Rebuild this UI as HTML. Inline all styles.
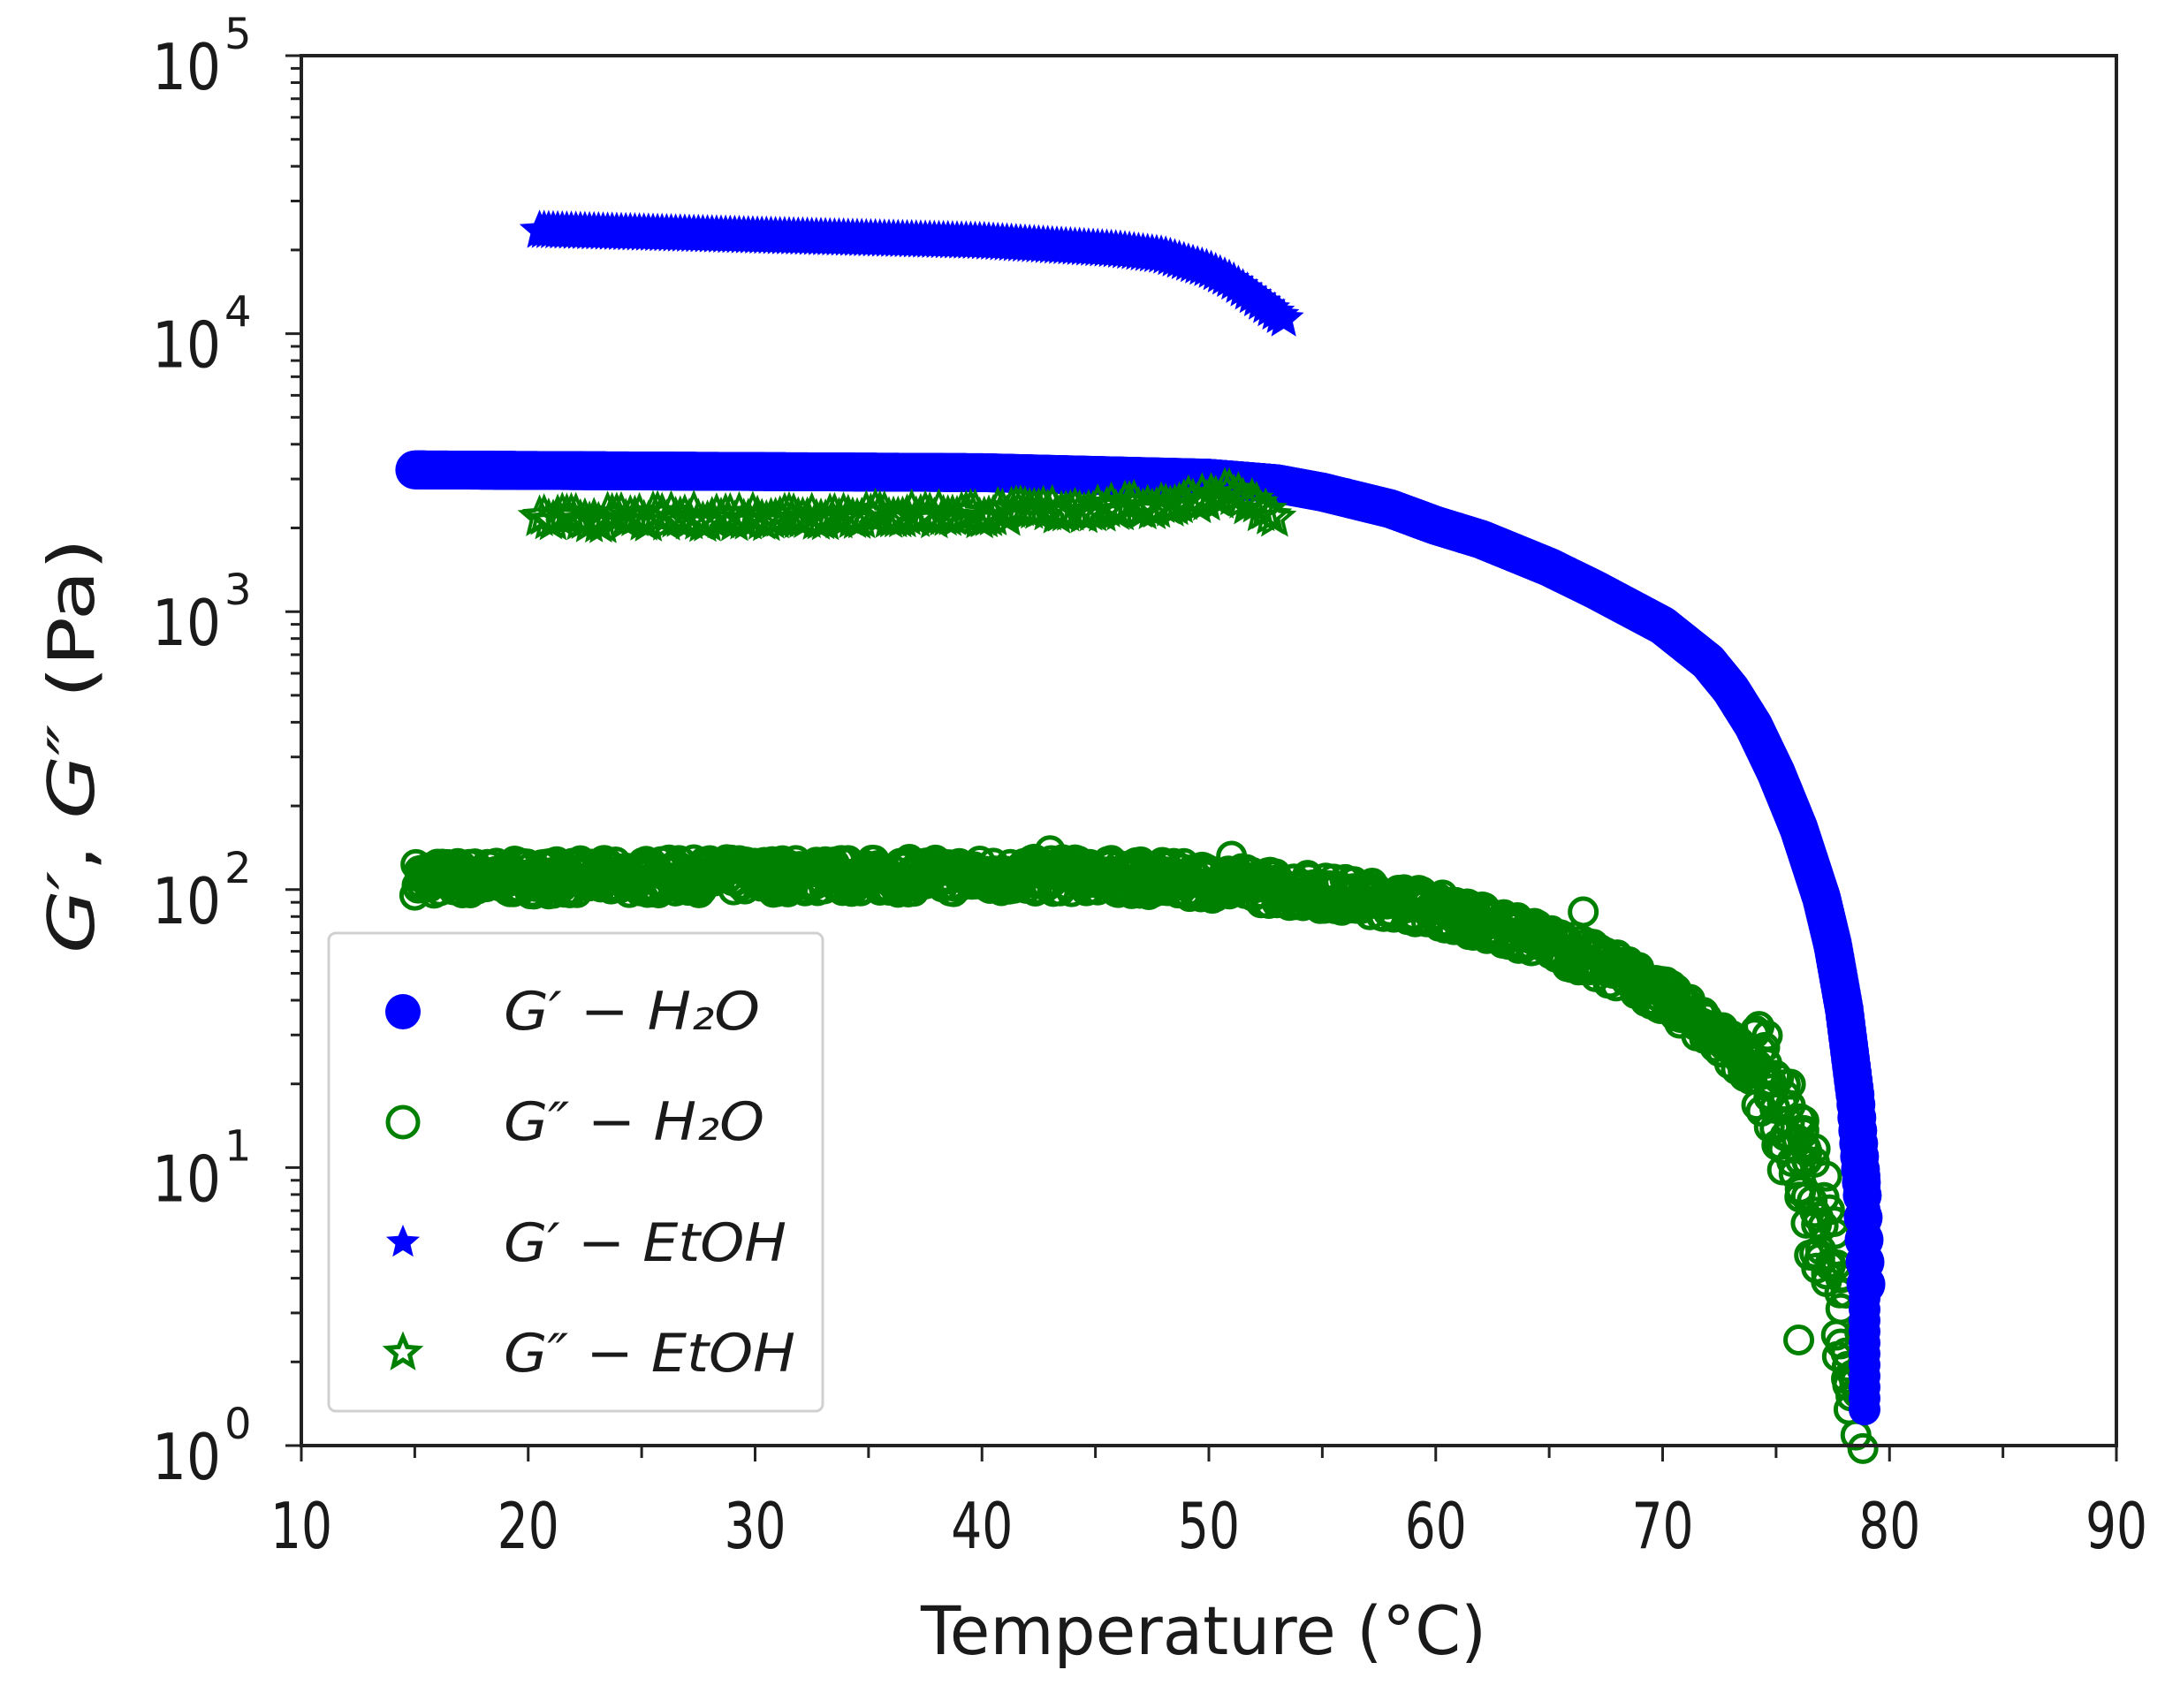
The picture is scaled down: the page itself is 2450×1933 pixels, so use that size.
<!DOCTYPE html>
<html><head><meta charset="utf-8"><style>
html,body{margin:0;padding:0;background:#fff;}
svg{display:block;}
text{font-family:"DejaVu Sans","Liberation Sans",sans-serif;fill:#1a1a1a;}
</style></head><body>
<svg id="s" width="2450" height="1933" viewBox="0 0 2450 1933" xmlns="http://www.w3.org/2000/svg">
<g id="data"></g>
<g id="axes"></g>
<rect x="372" y="1056" width="559" height="541" rx="8" fill="#fff" fill-opacity="0.85" stroke="#d0d0d0" stroke-width="3"/>
<circle cx="456" cy="1145" r="20" fill="#0000ff"/>
<circle cx="456" cy="1270" r="17" fill="none" stroke="#008000" stroke-width="5"/>
<polygon id="st1" fill="#0000ff"/>
<polygon id="st2" fill="none" stroke="#008000" stroke-width="5"/>
<g font-style="italic" font-size="60">
<text x="570" y="1165" textLength="290" lengthAdjust="spacingAndGlyphs">G′ − H₂O</text>
<text x="570" y="1290" textLength="295" lengthAdjust="spacingAndGlyphs">G″ − H₂O</text>
<text x="570" y="1427" textLength="320" lengthAdjust="spacingAndGlyphs">G′ − EtOH</text>
<text x="570" y="1552" textLength="330" lengthAdjust="spacingAndGlyphs">G″ − EtOH</text>
</g>
<text x="1362" y="1872" font-size="76" text-anchor="middle" textLength="640" lengthAdjust="spacingAndGlyphs">Temperature (°C)</text>
<text transform="translate(106,844) rotate(-90)" font-size="72" text-anchor="middle" textLength="470" lengthAdjust="spacingAndGlyphs"><tspan font-style="italic">G′</tspan>,  <tspan font-style="italic">G″</tspan> (Pa)</text>
</svg>
<script>
const L=341,R=2395,T=63,B=1636,dec=(B-T)/5;
const X=t=>L+(t-10)*(R-L)/80, Y=v=>B-v*dec;
const NS="http://www.w3.org/2000/svg";
const D=document.getElementById("data"),A=document.getElementById("axes");
function el(p,tag,at){const e=document.createElementNS(NS,tag);for(const k in at)e.setAttribute(k,at[k]);p.appendChild(e);return e;}
let seed=7;function rnd(){seed=(seed*16807)%2147483647;return seed/2147483647;}
function interp(pts,t){for(let i=0;i<pts.length-1;i++){if(t>=pts[i][0]&&t<=pts[i+1][0]){const f=(t-pts[i][0])/(pts[i+1][0]-pts[i][0]);return pts[i][1]+f*(pts[i+1][1]-pts[i][1]);}}return pts[pts.length-1][1];}
function star(cx,cy,r){let s=[];for(let i=0;i<10;i++){const a=-Math.PI/2+i*Math.PI/5,rr=i%2?r*0.45:r;s.push((cx+rr*Math.cos(a)).toFixed(1)+","+(cy+rr*Math.sin(a)).toFixed(1));}return s.join(" ");}
const g2=[[15,2.04],[30,2.05],[45,2.05],[50,2.03],[55,1.99],[58,1.96],[60,1.93],[63,1.86],[65,1.81],[68,1.71],[70,1.62],[72,1.5],[73,1.43],[74,1.34],[75,1.23],[76,1.05],[77,0.8],[78,0.45],[78.7,0.05]];
for(let t=15;t<=78.7;t+=0.05){const v=interp(g2,t)+(rnd()-0.5)*(t>74?0.4:0.12);el(D,"circle",{cx:X(t+(t>74?(rnd()-0.5)*0.6:0)),cy:Y(v),r:15,fill:"none",stroke:"#008000","stroke-width":5});}
[[43,2.14],[51,2.12],[19.5,2.1],[76,0.38],[66.5,1.92]].forEach(p=>el(D,"circle",{cx:X(p[0]),cy:Y(p[1]),r:15,fill:"none",stroke:"#008000","stroke-width":5}));
const g1=[[15,3.51],[40,3.5],[50,3.48],[53,3.46],[55,3.43],[58,3.37],[60,3.31],[62,3.26],[65,3.16],[67,3.08],[70,2.95],[72,2.82],[73,2.72],[74,2.59],[75,2.42],[76,2.22],[77,1.97],[77.5,1.8],[78,1.57],[78.5,1.25],[78.8,0.9],[79,0.5],[79,0.13]];
for(let t=15;t<=78.99;t+=0.04){el(D,"circle",{cx:X(t),cy:Y(interp(g1,t)),r:22,fill:"#0000ff"});}
for(let v=0.13;v<1.0;v+=0.04){el(D,"circle",{cx:X(78.9),cy:Y(v),r:18,fill:"#0000ff"});}
const e1=[[20.5,4.37],[30,4.35],[40,4.33],[46,4.3],[48,4.28],[50,4.23],[51,4.19],[52,4.13],[53.5,4.04]];
for(let t=20.5;t<=53.5;t+=0.2){el(D,"polygon",{points:star(X(t),Y(interp(e1,t)),24),fill:"#0000ff"});}
const e2=[[20.5,3.33],[40,3.35],[48,3.38],[51,3.43],[53,3.33]];
for(let t=20.5;t<=53;t+=0.2){el(D,"polygon",{points:star(X(t),Y(interp(e2,t)+(rnd()-0.5)*0.04),21),fill:"none",stroke:"#008000","stroke-width":4});}
document.getElementById("st1").setAttribute("points",star(456,1406,20));
document.getElementById("st2").setAttribute("points",star(456,1531,18));
el(A,"rect",{x:L,y:T,width:R-L,height:B-T,fill:"none",stroke:"#222","stroke-width":4});
for(let t=10;t<=90;t+=5){el(A,"line",{x1:X(t),x2:X(t),y1:B,y2:B+(t%10?14:18),stroke:"#222","stroke-width":3});
 if(t%10==0){const tx=el(A,"text",{x:X(t),y:1752,"font-size":72,"text-anchor":"middle",textLength:70,lengthAdjust:"spacingAndGlyphs"});tx.textContent=t;}}
for(let d=0;d<=5;d++){el(A,"line",{x1:L-18,x2:L,y1:Y(d),y2:Y(d),stroke:"#222","stroke-width":3});
 const tx=el(A,"text",{x:172,y:Y(d)+38,"font-size":72,textLength:78,lengthAdjust:"spacingAndGlyphs"});tx.textContent="10";
 const sp=el(A,"text",{x:254,y:Y(d)-8,"font-size":48});sp.textContent=d;
 if(d<5)for(let m=2;m<=9;m++){const y=Y(d+Math.log10(m));el(A,"line",{x1:L-12,x2:L,y1:y,y2:y,stroke:"#222","stroke-width":3});}}
</script>
</body></html>
